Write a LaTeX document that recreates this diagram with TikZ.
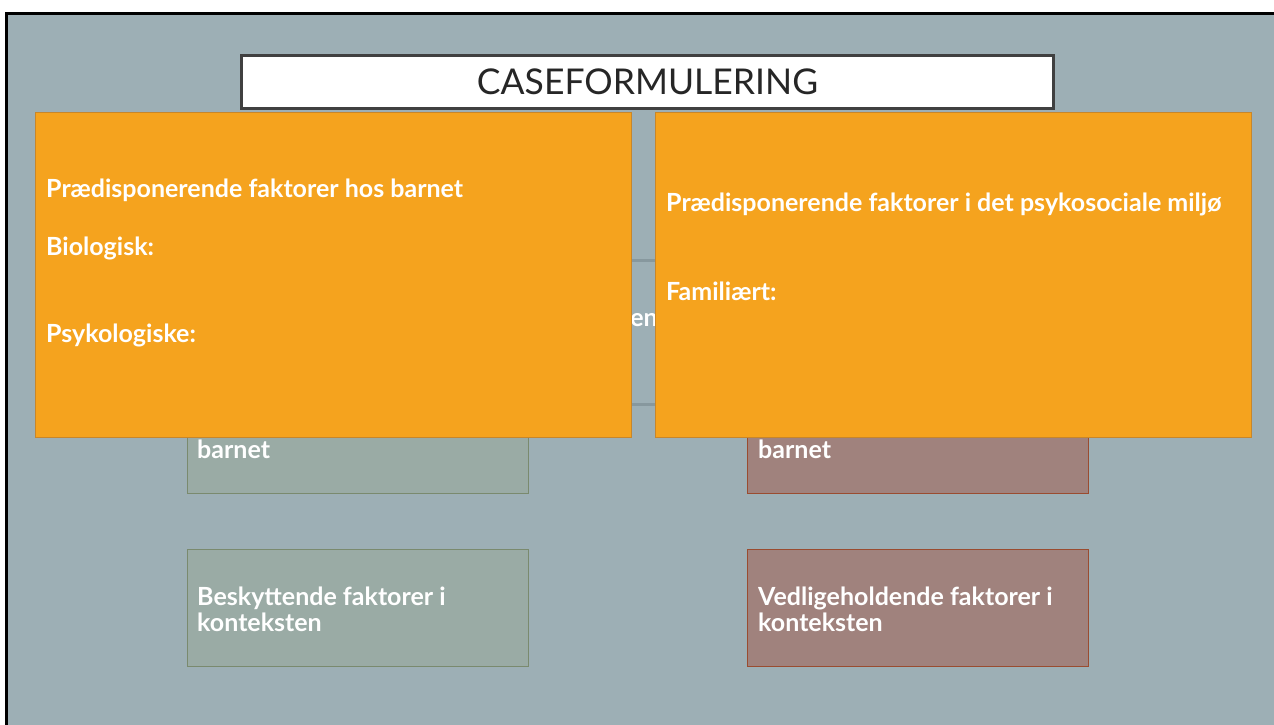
\documentclass[tikz,border=0pt]{standalone}
\usepackage{fontspec}
\setmainfont{Lato}

\definecolor{slide}{HTML}{9DAFB5}
\definecolor{orangefill}{HTML}{F5A31E}
\definecolor{orangeedge}{HTML}{C8862A}
\definecolor{greenfill}{HTML}{9AABA5}
\definecolor{greenedge}{HTML}{7A8A6E}
\definecolor{redfill}{HTML}{A0827D}
\definecolor{rededge}{HTML}{9A4C30}
\definecolor{titleedge}{HTML}{404040}
\definecolor{hiddenedge}{HTML}{87989E}

\tikzset{
    orangebox/.style={draw=orangeedge,fill=orangefill,line width=1pt,
        anchor=north west,minimum width=596,minimum height=325,inner sep=0pt},
    greenbox/.style={draw=greenedge,fill=greenfill,line width=1pt,
        anchor=north west,minimum width=341,minimum height=117,inner sep=0pt},
    redbox/.style={draw=rededge,fill=redfill,line width=1pt,
        anchor=north west,minimum width=341,minimum height=117,inner sep=0pt},
    bigtext/.style={anchor=west,text=white,font=\fontsize{25}{26}\selectfont\bfseries,inner sep=0pt},
    smalltext/.style={anchor=west,text=white,font=\fontsize{25}{26}\selectfont\bfseries,
        inner sep=0pt,align=left},
}

\begin{document}
\begin{tikzpicture}[x=1pt,y=-1pt]
    \fill[white] (0,0) rectangle (1274,724);
    \useasboundingbox (0,0) rectangle (1274,724);
    % slide with its frame
    \draw[line width=2.5pt,black,fill=slide] (6.5,13.5) rectangle (1295,745);

    % box in the middle, mostly covered
    \node[draw=hiddenedge,line width=2.5pt,anchor=north west,minimum width=200,
        minimum height=144,inner sep=0pt] (midbox) at (545,259) {};
    \node[smalltext,anchor=east] (midtext) at (658,320) {en};

    % lower boxes
    \node[greenbox] (beskbarn) at (187,376) {};
    \node[smalltext] (beskbarntxt) at (197,449) {barnet};
    \node[greenbox] (beskkon) at (187,549) {};
    \node[smalltext] (beskkontxt) at (197,609) {Beskyttende faktorer i\\konteksten};
    \node[redbox] (vedlbarn) at (747,376) {};
    \node[smalltext] (vedlbarntxt) at (758,449) {barnet};
    \node[redbox] (vedlkon) at (747,549) {};
    \node[smalltext] (vedlkontxt) at (758,609) {Vedligeholdende faktorer i\\konteksten};

    % orange boxes on top
    \node[orangebox] (predbarn) at (35,112) {};
    \node[bigtext] (predbarnhead) at (46,190) {Prædisponerende faktorer hos barnet};
    \node[bigtext] (biologisk) at (46,248) {Biologisk:};
    \node[bigtext] (psykologisk) at (46,335) {Psykologiske:};
    \node[orangebox] (predmiljo) at (655,112) {};
    \node[bigtext] (predmiljohead) at (666,204) {Prædisponerende faktorer i det psykosociale miljø};
    \node[bigtext] (familiaert) at (666,291) {Familiært:};

    % title
    \node[draw=titleedge,fill=white,line width=3pt,anchor=north west,minimum width=812,
        minimum height=53,inner sep=0pt] (titlebox) at (240,54) {};
    \node[text=black!85,font=\fontsize{35.5}{38}\selectfont] (title) at (titlebox.center) {CASEFORMULERING};
\end{tikzpicture}
\end{document}
